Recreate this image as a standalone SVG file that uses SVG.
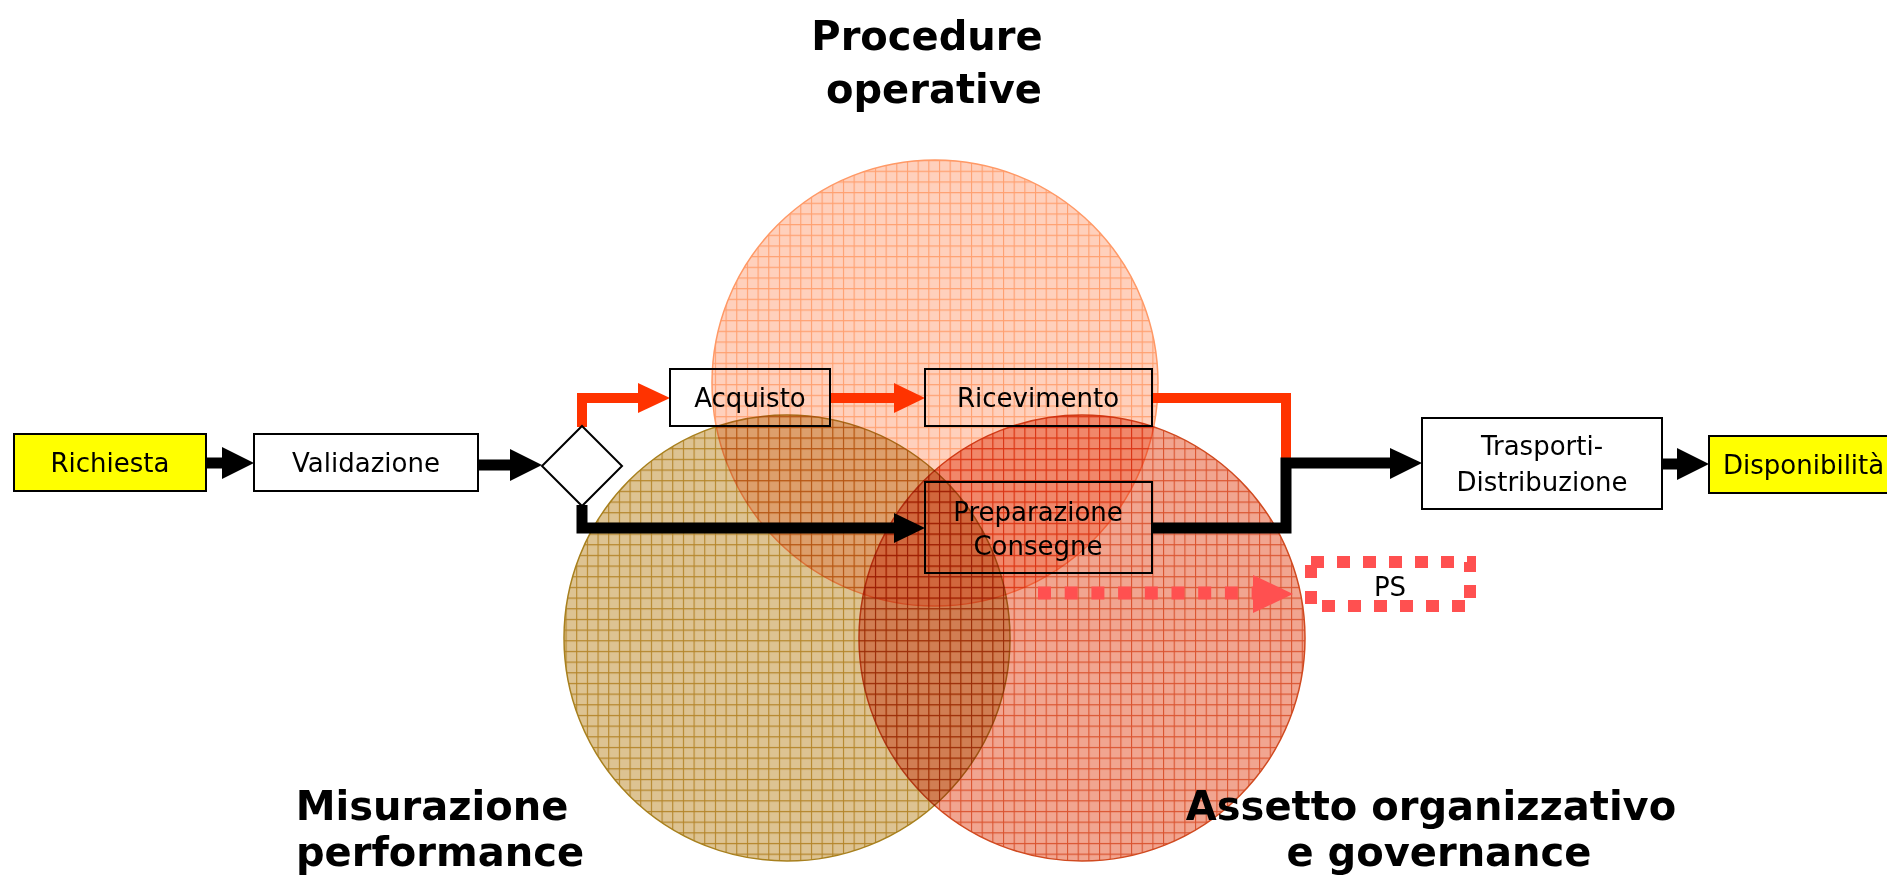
<svg xmlns="http://www.w3.org/2000/svg" width="1887" height="885" viewBox="0 0 1887 885">
<style>
.box{stroke:#000;stroke-width:2}
.lbl{font-family:"DejaVu Sans","Liberation Sans",sans-serif;font-size:26px;fill:#000;text-anchor:middle}
.title{font-family:"DejaVu Sans","Liberation Sans",sans-serif;font-size:40px;font-weight:bold;fill:#000;text-anchor:middle}
.blk{fill:none;stroke:#000;stroke-width:11}
.red{fill:none;stroke:#FF3300;stroke-width:10}
.circ{mix-blend-mode:multiply}
</style>
<defs>
<pattern id="pTop" patternUnits="userSpaceOnUse" width="10.67" height="10.67">
<rect width="10.67" height="10.67" fill="#FFD0BC"/>
<path d="M0,0.55H10.67M0.55,0V10.67" stroke="#FFA070" stroke-width="1.1"/>
</pattern>
<pattern id="pLeft" patternUnits="userSpaceOnUse" width="10.67" height="10.67">
<rect width="10.67" height="10.67" fill="#DDC392"/>
<path d="M0,0.55H10.67M0.55,0V10.67" stroke="#B4852A" stroke-width="1.1"/>
</pattern>
<pattern id="pRight" patternUnits="userSpaceOnUse" width="10.67" height="10.67">
<rect width="10.67" height="10.67" fill="#F1A590"/>
<path d="M0,0.55H10.67M0.55,0V10.67" stroke="#DA5430" stroke-width="1.1"/>
</pattern>
</defs>
<rect width="1887" height="885" fill="#fff"/>

<g id="circles">
<circle id="c-procedure" class="circ" cx="935" cy="383" r="223" fill="url(#pTop)" stroke="#FF9966" stroke-width="1.5"/>
<circle id="c-assetto" class="circ" cx="1082" cy="638" r="223" fill="url(#pRight)" stroke="#D04A20" stroke-width="1.5"/>
<circle id="c-misurazione" class="circ" cx="787" cy="638" r="223" fill="url(#pLeft)" stroke="#A8801E" stroke-width="1.5"/>
</g>

<g id="titles">
<text class="title" x="927" y="50">Procedure</text>
<text class="title" x="934" y="103">operative</text>
<text class="title" x="432" y="820">Misurazione</text>
<text class="title" x="440" y="866">performance</text>
<text class="title" x="1431" y="820">Assetto organizzativo</text>
<text class="title" x="1439" y="866">e governance</text>
</g>

<g id="connectors">
<path class="blk" d="M206,463H224"/>
<polygon points="222,447 254,463 222,479"/>
<path class="blk" d="M478,465H512"/>
<polygon points="510,449 542,465 510,481"/>
<path class="red" d="M582,427V398H640"/>
<polygon points="638,383 670,398 638,413" fill="#FF3300"/>
<path class="red" d="M830,398H896"/>
<polygon points="894,383 925,398 894,413" fill="#FF3300"/>
<path class="red" d="M1152,398H1286V460"/>
<path class="blk" d="M582,505V528H896"/>
<polygon points="894,513 925,528 894,543"/>
<path class="blk" d="M1152,528H1286V463H1392"/>
<polygon points="1390,448 1422,463 1390,479"/>
<path class="blk" d="M1662,464H1679"/>
<polygon points="1677,448 1709,464 1677,480"/>
<path d="M1038,593H1254" fill="none" stroke="#FF5050" stroke-width="13" stroke-dasharray="13 13.7"/>
<polygon points="1253,575 1293,594 1253,613" fill="#FF5050"/>
</g>

<g id="n-richiesta">
<rect class="box" x="14" y="434" width="192" height="57" fill="#FFFF00"/>
<text class="lbl" x="110" y="472">Richiesta</text>
</g>
<g id="n-validazione">
<rect class="box" x="254" y="434" width="224" height="57" fill="#fff"/>
<text class="lbl" x="366" y="472">Validazione</text>
</g>
<g id="n-decisione">
<polygon class="box" points="582,426 622,466 582,506 542,466" fill="#fff"/>
</g>
<g id="n-acquisto">
<rect class="box" x="670" y="369" width="160" height="57" fill="none"/>
<text class="lbl" x="750" y="407">Acquisto</text>
</g>
<g id="n-ricevimento">
<rect class="box" x="925" y="369" width="227" height="57" fill="none"/>
<text class="lbl" x="1038" y="407">Ricevimento</text>
</g>
<g id="n-preparazione">
<rect class="box" x="925" y="482" width="227" height="91" fill="none"/>
<text class="lbl" x="1038" y="521">Preparazione</text>
<text class="lbl" x="1038" y="555">Consegne</text>
</g>
<g id="n-trasporti">
<rect class="box" x="1422" y="418" width="240" height="91" fill="#fff"/>
<text class="lbl" x="1542" y="455">Trasporti-</text>
<text class="lbl" x="1542" y="491">Distribuzione</text>
</g>
<g id="n-disponibilita">
<rect class="box" x="1709" y="436" width="200" height="57" fill="#FFFF00"/>
<text class="lbl" x="1723" y="474" style="text-anchor:start">Disponibilità</text>
</g>
<g id="n-ps">
<rect x="1311" y="562" width="159" height="44" fill="none" stroke="#FF5050" stroke-width="12" stroke-dasharray="13 13"/>
<text class="lbl" x="1390" y="596">PS</text>
</g>
</svg>
